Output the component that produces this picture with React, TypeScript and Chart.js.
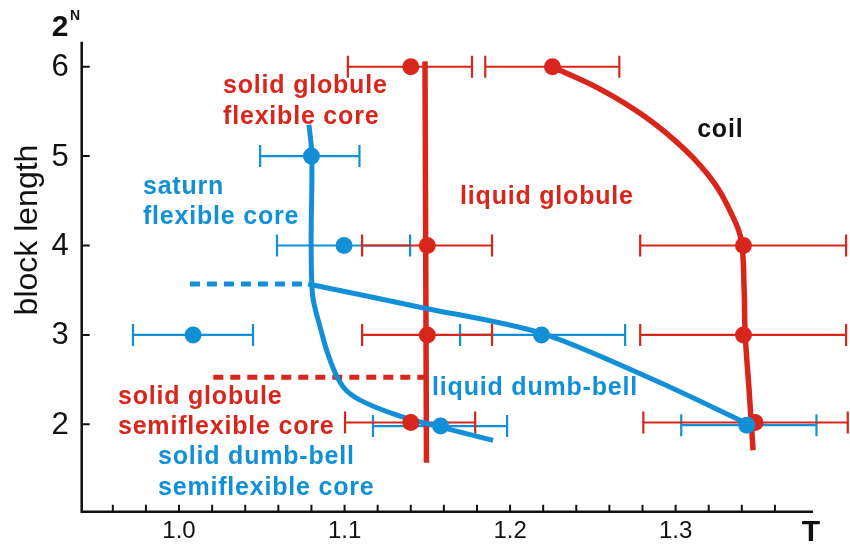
import React, { useEffect, useRef } from "react";
import { Chart, registerables } from "chart.js";
Chart.register(...registerables);

const RED = "#d9261c";
const BLUE = "#1190d8";
const FONT = '"Liberation Sans", Arial, sans-serif';

// Red data points (T, N) with horizontal error bars
const redT = [1.14, 1.2256, 1.15, 1.15, 1.14, 1.341, 1.341, 1.348];
const redN = [6.0, 6.0, 4.0, 3.0, 2.02, 4.0, 3.0, 2.02];
const redLo = [1.102, 1.185, 1.1106, 1.1106, 1.1003, 1.2786, 1.2786, 1.2805];
const redHi = [1.177, 1.266, 1.1891, 1.1891, 1.1789, 1.403, 1.403, 1.404];

// Blue data points with horizontal error bars
const blueT = [1.08, 1.0997, 1.0085, 1.219, 1.158, 1.343];
const blueN = [5.0, 4.0, 3.0, 3.0, 1.98, 1.99];
const blueLo = [1.049, 1.0592, 0.9722, 1.1698, 1.1172, 1.3034];
const blueHi = [1.109, 1.1396, 1.0447, 1.2695, 1.1982, 1.3851];

// Phase boundaries
const redLineT = [1.1486, 1.1495];
const redLineN = [6.06, 1.57];
const coilT = [1.2254, 1.2544, 1.2816, 1.3057, 1.3233, 1.3341, 1.3396, 1.3414, 1.342, 1.3444, 1.3468];
const coilN = [6.0, 5.75, 5.44, 5.07, 4.7, 4.34, 4.06, 3.5, 3.02, 2.38, 1.71];
const blueCurveT = [1.0785, 1.0802, 1.0798, 1.0802, 1.0811, 1.0852, 1.0912, 1.0991, 1.1094, 1.1335, 1.1535, 1.1897];
const blueCurveN = [5.35, 5.01, 4.06, 3.58, 3.39, 3.09, 2.72, 2.42, 2.27, 2.09, 1.99, 1.82];
const blueSlopeT = [1.078, 1.1456, 1.2187, 1.2864, 1.343];
const blueSlopeN = [3.57, 3.31, 3.02, 2.5, 2.01];
const blueDashT = [1.0066, 1.078];
const blueDashN = [3.57, 3.57];
const redDashT = [1.0207, 1.149];
const redDashN = [2.526, 2.526];

// Axis ticks
const xMinorTicks = [0.96, 0.98, 1.0, 1.02, 1.04, 1.06, 1.08, 1.1, 1.12, 1.14, 1.16, 1.18, 1.2, 1.22, 1.24, 1.26, 1.28, 1.3, 1.32, 1.34, 1.36];
const xLabelValues = [1.0, 1.1, 1.2, 1.3];
const xLabels = ["1.0", "1.1", "1.2", "1.3"];
const yTicks = [2, 3, 4, 5, 6];
const yLabels = ["2", "3", "4", "5", "6"];

// Region labels
const labelTexts = [
  "solid globule", "flexible core", "saturn", "flexible core", "liquid globule", "coil",
  "liquid dumb-bell", "solid globule", "semiflexible core", "solid dumb-bell", "semiflexible core",
];
const labelT = [1.0266, 1.0266, 0.9782, 0.9782, 1.1698, 1.313, 1.1529, 0.9631, 0.9631, 0.9873, 0.9873];
const labelN = [5.784, 5.437, 4.654, 4.319, 4.542, 5.292, 2.406, 2.309, 1.973, 1.638, 1.284];
const labelColors = [RED, RED, BLUE, BLUE, RED, "#111", BLUE, RED, RED, BLUE, BLUE];

const pts = (xs: number[], ys: number[]) => xs.map((x, i) => ({ x, y: ys[i] }));

const decor = {
  id: "decor",
  beforeDatasetsDraw(chart: any) {
    const { ctx, scales } = chart;
    const xs = scales.x, ys = scales.y;
    const bars = (T: number[], N: number[], lo: number[], hi: number[], col: string) => {
      ctx.save();
      ctx.strokeStyle = col;
      ctx.lineWidth = 2.2;
      T.forEach((_, i) => {
        const y = ys.getPixelForValue(N[i]);
        const x1 = xs.getPixelForValue(lo[i]);
        const x2 = xs.getPixelForValue(hi[i]);
        ctx.beginPath();
        ctx.moveTo(x1, y); ctx.lineTo(x2, y);
        ctx.moveTo(x1, y - 11); ctx.lineTo(x1, y + 11);
        ctx.moveTo(x2, y - 11); ctx.lineTo(x2, y + 11);
        ctx.stroke();
      });
      ctx.restore();
    };
    bars(blueT, blueN, blueLo, blueHi, BLUE);
    bars(redT, redN, redLo, redHi, RED);
  },
  afterDraw(chart: any) {
    const { ctx, scales, chartArea } = chart;
    const xs = scales.x, ys = scales.y;
    ctx.save();
    // axes
    ctx.strokeStyle = "#111";
    ctx.lineWidth = 2.5;
    ctx.beginPath();
    ctx.moveTo(chartArea.left, chartArea.top);
    ctx.lineTo(chartArea.left, chartArea.bottom);
    ctx.lineTo(chartArea.right, chartArea.bottom);
    ctx.stroke();
    ctx.lineWidth = 2;
    ctx.beginPath();
    xMinorTicks.forEach((v) => {
      const x = xs.getPixelForValue(v);
      ctx.moveTo(x, chartArea.bottom);
      ctx.lineTo(x, chartArea.bottom - 7);
    });
    yTicks.forEach((v) => {
      const y = ys.getPixelForValue(v);
      ctx.moveTo(chartArea.left, y);
      ctx.lineTo(chartArea.left + 8, y);
    });
    ctx.stroke();
    // tick labels
    ctx.fillStyle = "#111";
    ctx.font = `24px ${FONT}`;
    ctx.textAlign = "center";
    ctx.textBaseline = "middle";
    xLabelValues.forEach((v, i) => {
      ctx.fillText(xLabels[i], xs.getPixelForValue(v), chartArea.bottom + 20);
    });
    ctx.font = `31px ${FONT}`;
    ctx.textAlign = "right";
    yTicks.forEach((v, i) => {
      ctx.fillText(yLabels[i], chartArea.left - 13, ys.getPixelForValue(v) + 1);
    });
    // axis titles
    ctx.font = `bold 30px ${FONT}`;
    ctx.textAlign = "center";
    ctx.fillText("T", chartArea.right - 2, chartArea.bottom + 21);
    ctx.fillText("2", 60, 28);
    ctx.font = `bold 14px ${FONT}`;
    ctx.fillText("N", 75, 16);
    ctx.save();
    ctx.translate(28, 230);
    ctx.rotate(-Math.PI / 2);
    ctx.font = `32px ${FONT}`;
    ctx.fillText("block length", 0, 0);
    ctx.restore();
    // region labels
    ctx.font = `bold 25px ${FONT}`;
    (ctx as any).letterSpacing = "0.8px";
    ctx.textAlign = "left";
    labelTexts.forEach((t, i) => {
      ctx.fillStyle = labelColors[i];
      ctx.fillText(t, xs.getPixelForValue(labelT[i]), ys.getPixelForValue(labelN[i]));
    });
    (ctx as any).letterSpacing = "0px";
    ctx.restore();
  },
};

export default function App() {
  const ref = useRef<HTMLCanvasElement>(null);
  useEffect(() => {
    if (!ref.current) return;
    const line = (xs: number[], ys: number[], col: string, order: number, extra: any = {}) => ({
      type: "scatter",
      data: pts(xs, ys),
      showLine: true,
      borderColor: col,
      backgroundColor: col,
      pointRadius: 0,
      borderWidth: 5.5,
      tension: 0.4,
      fill: false,
      order,
      ...extra,
    });
    const chart = new Chart(ref.current, {
      type: "scatter",
      data: {
        datasets: [
          {
            data: pts(blueT, blueN),
            pointRadius: 8.5,
            pointBackgroundColor: BLUE,
            pointBorderWidth: 0,
            order: 0,
          } as any,
          {
            data: pts(redT, redN),
            pointRadius: 8.5,
            pointBackgroundColor: RED,
            pointBorderWidth: 0,
            order: 1,
          } as any,
          line(blueCurveT, blueCurveN, BLUE, 2, { borderWidth: 5 }),
          line(blueSlopeT, blueSlopeN, BLUE, 2, { borderWidth: 5, tension: 0.3 }),
          line(redLineT, redLineN, RED, 3, { tension: 0 }),
          line(coilT, coilN, RED, 3, { tension: 0.4 }),
          line(blueDashT, blueDashN, BLUE, 4, { borderDash: [10, 7], borderWidth: 5, tension: 0 }),
          line(redDashT, redDashN, RED, 4, { borderDash: [10, 7], borderWidth: 5, tension: 0 }),
        ],
      },
      options: {
        animation: false,
        responsive: true,
        maintainAspectRatio: false,
        layout: { padding: { left: 81.7, right: 37, top: 41.7, bottom: 33.3 } },
        scales: {
          x: { type: "linear", min: 0.9412, max: 1.383, display: false },
          y: { type: "linear", min: 1.022, max: 6.28, display: false },
        },
        plugins: { legend: { display: false }, tooltip: { enabled: false } },
        elements: { line: { capBezierPoints: false } },
      },
      plugins: [decor],
    } as any);
    return () => chart.destroy();
  }, []);
  return (
    <div style={{ position: "absolute", left: 0, top: 0, width: 850, height: 545, background: "#fff" }}>
      <canvas ref={ref} />
    </div>
  );
}
